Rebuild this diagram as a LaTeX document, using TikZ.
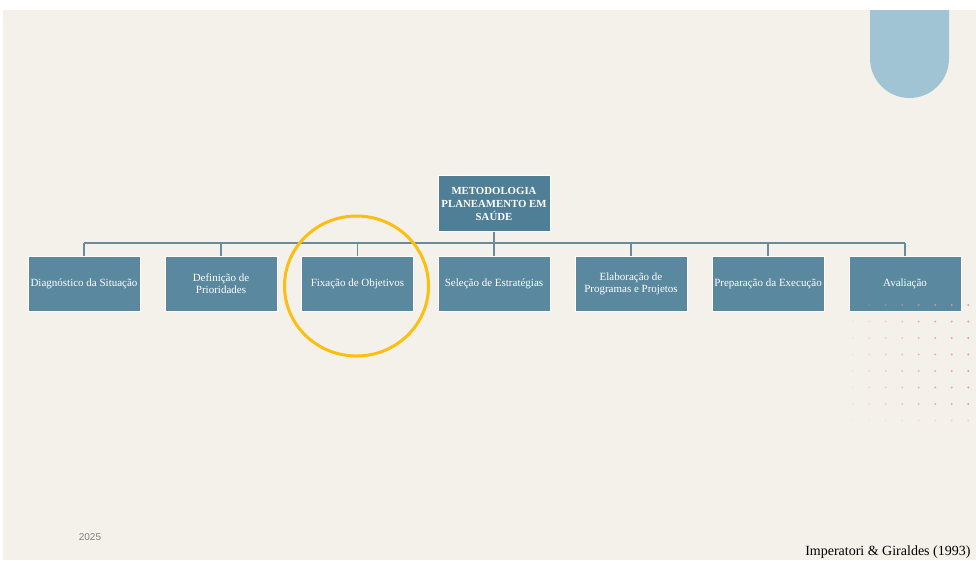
\documentclass[tikz,border=0pt]{standalone}
\usepackage{fontspec}
\setmainfont{Liberation Serif}
\setsansfont{Liberation Sans}
\usetikzlibrary{positioning}

\definecolor{cream}{HTML}{F4F1EA}
\definecolor{boxblue}{HTML}{5A889F}
\definecolor{topblue}{HTML}{4F7F97}
\definecolor{linkgrey}{HTML}{6A8A9E}
\definecolor{pillblue}{HTML}{A0C4D3}
\definecolor{ringgold}{HTML}{FCBE10}
\definecolor{dotpink}{HTML}{E39AA2}

\begin{document}
\begin{tikzpicture}[x=1pt,y=-1pt,
    stepbox/.style={draw=white,line width=0.8pt,fill=boxblue,text=white,
      minimum width=112pt,minimum height=55pt,inner sep=0pt,align=center,
      font=\fontsize{11}{12}\selectfont},
    headbox/.style={stepbox,fill=topblue,minimum height=56pt,
      font=\fontsize{10.8}{13}\selectfont\bfseries},
    link/.style={draw=linkgrey,line width=1.3pt}]
% background
\useasboundingbox (0,0) rectangle (976,560);
\fill[white] (0,0) rectangle (976,560);
\fill[cream] (3,10) rectangle (976,560);
\fill[pillblue] (870,10) -- (870,58.5) arc[start angle=180,end angle=0,radius=39.5] -- (949,10) -- cycle;

% boxes
\node[headbox] (head) at (494,203.5) {METODOLOGIA\\PLANEAMENTO EM\\SAÚDE};
\node[stepbox] (diag) at (84,283.5) {Diagnóstico da Situação};
\node[stepbox] (defi) at (221,283.5) {Definição de\\Prioridades};
\node[stepbox] (fixa) at (357.5,283.5) {Fixação de Objetivos};
\node[stepbox] (sele) at (494,283.5) {Seleção de Estratégias};
\node[stepbox] (elab) at (631,283.5) {Elaboração de\\Programas e Projetos};
\node[stepbox] (prep) at (768,283.5) {Preparação da Execução};
\node[stepbox] (aval) at (905,283.5) {Avaliação};

% connectors
\coordinate (bus) at (0,243);
\draw[link] (diag.north |- bus) -- (aval.north |- bus);
\draw[link] (head.south) -- (head.south |- bus);
\foreach \n in {diag,defi,fixa,sele,elab,prep,aval}
  \draw[link] (\n.north |- bus) -- (\n.north);

% highlight
\draw[ringgold,line width=3pt] (356.5,286) ellipse[x radius=72pt,y radius=70pt];

% dot grid
\foreach \i in {0,...,7}
  \foreach \j in {0,...,7}{
    \pgfmathsetmacro{\op}{(\j==7 ? 0.35 : 1)*(0.15+0.12*\i)}
    \fill[dotpink,opacity=\op] (852.7+16.5*\i,305+16.5*\j) circle (1.2pt);
  }

% footer
\node[font=\sffamily\fontsize{10}{12}\selectfont,text=gray] (year) at (90,537) {2025};
\node[font=\fontsize{14}{16}\selectfont,anchor=east] (ref) at (974,552) {Imperatori \& Giraldes (1993)};
\end{tikzpicture}
\end{document}
